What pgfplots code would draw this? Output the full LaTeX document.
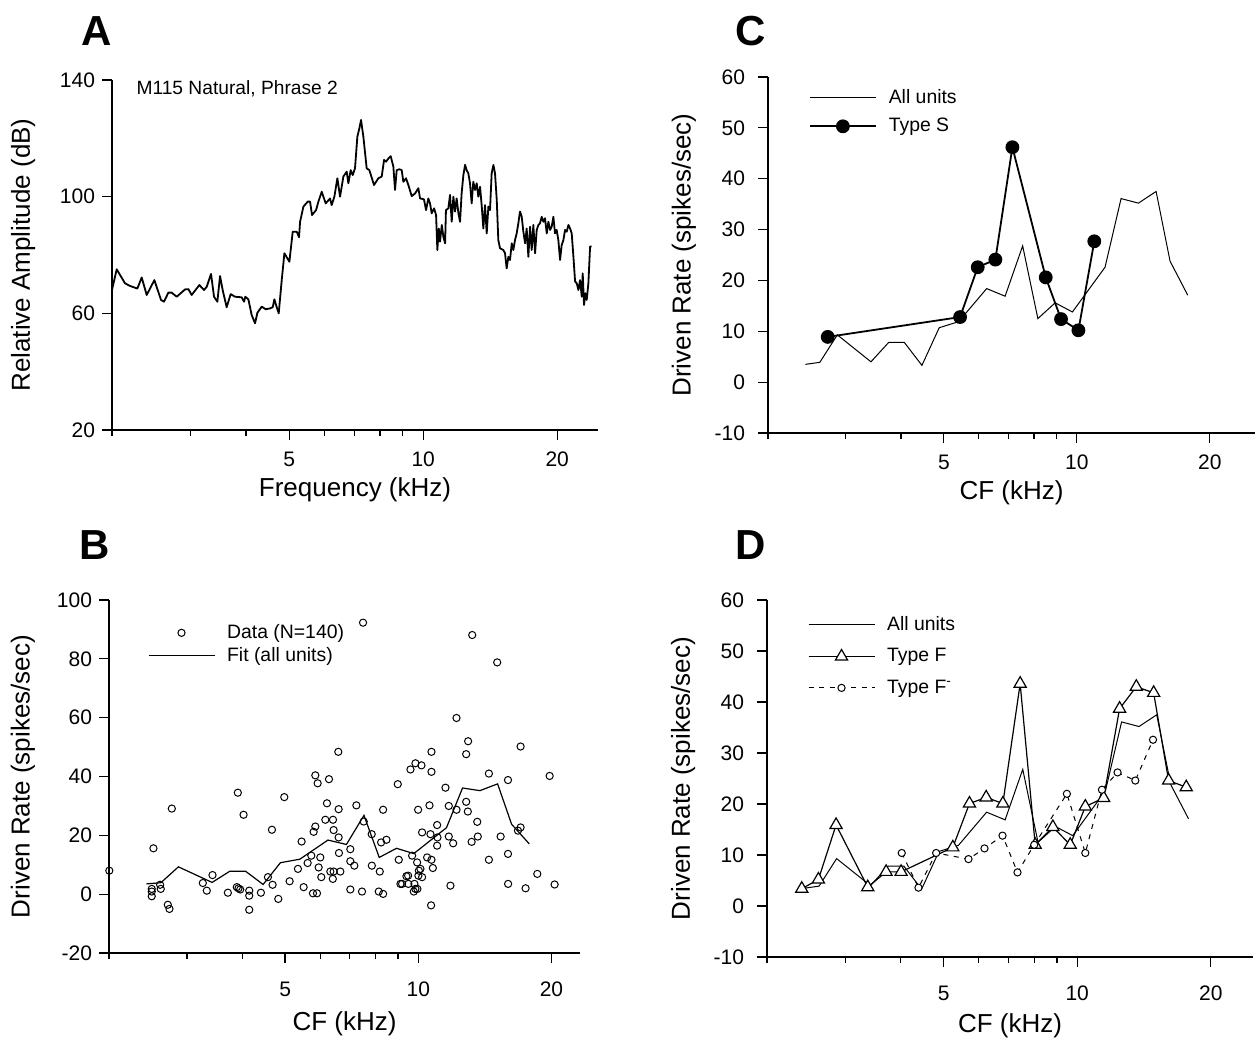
\documentclass[border=0pt]{standalone}
\usepackage{fontspec}
\setmainfont{Liberation Sans}
\usepackage{pgfplots}
\usepackage{pgfplotstable}
\pgfplotsset{compat=1.18}

% population fit shared by panels B, C, D
\pgfplotstableread{
f v
2.43 3.5
2.62 3.9
2.87 9.3
3.42 4.0
3.75 7.8
4.07 7.8
4.46 3.3
4.88 10.7
5.40 11.9
6.25 18.4
6.88 16.9
7.54 26.8
8.16 12.5
8.93 15.6
9.77 13.8
11.58 22.6
12.59 36.1
13.78 35.2
15.11 37.5
16.25 23.8
17.82 17.1
}\allunits

\pgfplotsset{
  every axis/.append style={
    scale only axis, clip=false,
    axis x line=bottom, axis y line=left,
    axis line style={-, line width=0.6pt},
    xtick={5,10,20}, xticklabels={5,10,20},
    minor xtick={2,3,4,6,7,8,9},
    tick align=outside,
    major tick length=5pt, minor tick length=3pt,
    tick style={black, line width=0.6pt},
    tick label style={font=\fontsize{10.5}{12}\selectfont},
    label style={font=\fontsize{13}{15}\selectfont},
    legend cell align=left,
    legend style={draw=none, fill=none, column sep=4pt, font=\fontsize{9.7}{11}\selectfont},
    legend image code/.code={\draw[mark repeat=2,mark phase=2,#1] plot coordinates {(0pt,0pt) (16.5pt,0pt) (33pt,0pt)};},
  },
}
\pgfplotsset{/pgf/number format/assume math mode=true}

\begin{document}
\begin{tikzpicture}
\useasboundingbox (0,0) rectangle (628.5pt,-520.5pt);

\node[font=\fontsize{21}{24}\selectfont\bfseries] at (48.5pt,-15.5pt) {A};
\node[font=\fontsize{21}{24}\selectfont\bfseries] at (47.5pt,-272.5pt) {B};
\node[font=\fontsize{21}{24}\selectfont\bfseries] at (375.5pt,-15.5pt) {C};
\node[font=\fontsize{21}{24}\selectfont\bfseries] at (375.5pt,-272.5pt) {D};

% ---------- A: spectrum
\begin{semilogxaxis}[at={(56pt,-215pt)}, anchor=south west,
  width=243pt, height=175pt, xmin=2, xmax=24.7,
  ymin=20, ymax=140, ytick={20,60,100,140},
  xticklabel style={yshift=-2.5pt},
  xlabel={Frequency (kHz)}, ylabel={Relative Amplitude (dB)},
  xlabel style={at={(axis description cs:0.5,-0.171)}, anchor=center},
  ylabel style={at={(axis description cs:-0.183,0.5)}, anchor=center}]
\addplot[black, line width=0.9pt, line join=round] coordinates {
(2.000,68.0) (2.049,75.1) (2.139,70.3) (2.195,69.4) (2.280,68.5) (2.332,72.3)
(2.393,66.3) (2.490,71.4) (2.577,64.6) (2.617,64.0) (2.677,67.1) (2.723,67.1)
(2.795,65.7) (2.918,68.2) (2.969,68.3) (3.020,66.3) (3.142,69.7) (3.219,68.0)
(3.264,69.1) (3.338,73.5) (3.390,65.7) (3.449,64.0) (3.497,72.8) (3.545,68.0)
(3.619,62.1) (3.695,66.6) (3.779,65.7) (3.911,65.5) (3.959,64.0) (3.986,65.7)
(4.049,64.8) (4.119,59.4) (4.191,56.6) (4.242,60.2) (4.338,62.3) (4.429,61.4)
(4.529,61.7) (4.592,62.1) (4.632,64.8) (4.688,62.1) (4.737,60.0) (4.811,71.4)
(4.878,80.6) (5.005,77.7) (5.093,88.0) (5.199,88.0) (5.262,86.1) (5.290,91.4)
(5.382,96.6) (5.504,98.3) (5.570,98.3) (5.628,93.7) (5.746,95.4) (5.816,98.3)
(5.917,101.7) (6.040,97.7) (6.177,99.4) (6.230,97.1) (6.317,100.0) (6.416,106.3)
(6.505,100.0) (6.618,106.9) (6.733,108.6) (6.791,104.6) (6.874,109.1) (6.945,107.4)
(7.029,109.7) (7.115,120.6) (7.189,123.4) (7.251,126.3) (7.339,120.6) (7.467,109.7)
(7.571,109.1) (7.755,104.0) (7.931,106.3) (8.069,106.9) (8.168,112.6) (8.252,112.0)
(8.353,113.1) (8.454,113.9) (8.571,110.3) (8.645,102.3) (8.720,109.1) (8.841,109.4)
(8.949,109.1) (9.026,105.1) (9.151,106.3) (9.262,104.0) (9.423,100.2) (9.588,101.1)
(9.754,102.9) (9.840,99.4) (10.04,99.1) (10.15,95.4) (10.27,99.4) (10.36,97.7)
(10.45,94.3) (10.58,96.0) (10.69,93.7) (10.76,81.7) (10.84,89.1) (10.91,84.6)
(11.01,90.3) (11.10,86.3) (11.20,84.0) (11.25,95.4) (11.39,96.0) (11.49,100.6)
(11.59,91.4) (11.69,100.0) (11.79,94.9) (11.89,99.4) (12.00,94.3) (12.10,91.4)
(12.20,101.1) (12.31,107.4) (12.42,110.9) (12.52,109.1) (12.63,108.0) (12.74,104.6)
(12.85,97.7) (12.96,105.1) (13.08,102.3) (13.19,104.6) (13.30,100.0) (13.42,103.4)
(13.54,96.6) (13.65,89.1) (13.77,97.1) (13.89,87.4) (14.01,96.6) (14.13,95.4)
(14.25,108.0) (14.38,110.9) (14.50,108.0) (14.63,98.9) (14.75,85.1) (14.88,82.3)
(15.14,81.7) (15.27,80.6) (15.40,75.4) (15.54,79.4) (15.67,78.3) (15.81,84.0)
(15.94,81.7) (16.08,85.1) (16.22,87.4) (16.36,90.9) (16.50,94.9) (16.65,93.1)
(16.79,88.0) (16.94,84.0) (17.08,89.1) (17.23,79.4) (17.38,89.7) (17.53,81.7)
(17.68,90.3) (17.84,80.6) (17.99,88.6) (18.15,90.3) (18.30,90.9) (18.46,93.1)
(18.62,91.4) (18.78,92.6) (18.95,87.4) (19.11,91.4) (19.28,88.6) (19.44,89.7)
(19.61,93.1) (19.78,87.4) (19.95,88.6) (20.12,85.1) (20.30,78.3) (20.47,83.4)
(20.65,85.1) (20.83,88.6) (21.01,88.0) (21.19,90.3) (21.38,89.1) (21.56,87.4)
(21.75,79.4) (21.94,70.9) (22.13,70.3) (22.32,68.0) (22.51,71.4) (22.71,65.7)
(22.82,73.7) (22.98,62.9) (23.14,66.9) (23.30,64.6) (23.50,70.3) (23.71,82.9)
(23.91,82.9)
};
\node[anchor=west, font=\fontsize{9.6}{11}\selectfont] at (axis description cs:0.036,0.974) {M115 Natural, Phrase 2};
\end{semilogxaxis}

% ---------- C: type S
\begin{semilogxaxis}[at={(384pt,-216.5pt)}, anchor=south west,
  width=243.5pt, height=178pt, xmin=2, xmax=25.3,
  ymin=-10, ymax=60, ytick={-10,0,...,60},
  xticklabel style={yshift=-2.5pt}, yticklabel style={xshift=-3pt},
  xlabel={CF (kHz)}, ylabel={Driven Rate (spikes/sec)},
  xlabel style={at={(axis description cs:0.5,-0.169)}, anchor=center},
  ylabel style={at={(axis description cs:-0.1725,0.5)}, anchor=center},
  legend style={at={(axis description cs:0.071,0.99)}, anchor=north west, row sep=2pt}]
\addplot[black, line width=0.5pt] table[x=f, y=v] {\allunits};
\addlegendentry{All units}
\addplot[black, line width=0.9pt, mark=*, mark size=3pt] coordinates {
(2.730,8.9) (5.440,12.8) (5.965,22.6) (6.540,24.1) (7.146,46.2)
(8.502,20.6) (9.208,12.4) (10.08,10.2) (10.95,27.7)
};
\addlegendentry{Type S}
\end{semilogxaxis}

% ---------- B: all units
\begin{semilogxaxis}[at={(54.5pt,-476.5pt)}, anchor=south west,
  width=235.5pt, height=176.5pt, xmin=2, xmax=23.2,
  ymin=-20, ymax=100, ytick={-20,0,...,100},
  xticklabel style={yshift=-6pt},
  xlabel={CF (kHz)}, ylabel={Driven Rate (spikes/sec)},
  xlabel style={at={(axis description cs:0.5,-0.2)}, anchor=center},
  ylabel style={at={(axis description cs:-0.1826,0.5)}, anchor=center},
  legend style={at={(axis description cs:0.069,0.955)}, anchor=north west, row sep=-1pt}]
\addplot[black, only marks, mark=o, mark size=1.8pt, line width=0.5pt] table {
f v
2.003 8.0
2.520 15.6
2.498 1.8
2.498 0.9
2.498 -0.7
2.618 1.8
2.609 3.2
2.716 -3.6
2.739 -5.0
2.773 29.1
3.259 3.8
3.327 1.2
3.427 6.5
3.712 0.5
3.910 34.5
3.890 2.4
3.924 2.0
3.959 1.6
4.028 27.0
4.149 1.2
4.149 -0.5
4.149 -5.3
4.409 0.5
4.573 5.8
4.669 21.9
4.685 3.2
4.826 -1.6
4.979 33.0
5.119 4.4
5.346 8.6
5.449 17.9
5.507 2.4
5.622 10.6
5.731 13.1
5.781 0.3
5.903 0.3
5.801 21.2
5.852 23.0
5.852 40.4
5.923 37.7
5.954 9.1
6.006 12.5
6.037 5.8
6.165 25.3
6.218 30.9
6.283 39.1
6.327 7.7
6.415 25.3
6.410 5.2
6.437 7.7
6.437 21.8
6.596 48.4
6.607 28.9
6.607 19.3
6.618 14.0
6.665 7.7
7.022 15.3
7.022 11.2
7.022 1.6
7.170 9.7
7.245 30.2
7.462 0.9
7.502 92.3
7.528 24.7
7.848 20.4
7.853 9.7
8.141 0.9
8.327 0.1
8.184 7.7
8.241 17.6
8.473 18.5
8.327 28.7
8.987 37.4
9.034 11.7
9.113 3.5
9.192 3.5
9.484 6.3
9.497 3.5
9.400 6.1
9.800 3.5
9.601 42.4
9.684 13.1
9.768 0.9
9.853 44.5
10.166 43.8
9.939 10.8
9.953 1.8
9.850 1.8
9.991 28.7
10.005 6.3
10.030 8.0
10.112 8.6
10.200 21.0
10.200 5.8
10.71 48.4
10.71 41.6
10.60 30.2
10.655 20.4
10.47 12.5
10.71 11.7
10.787 8.9
10.69 -3.8
11.03 23.5
11.05 19.3
11.03 16.5
11.52 36.2
11.72 30.0
11.72 19.6
11.82 2.9
11.99 17.3
12.20 28.7
12.20 59.9
12.83 31.4
12.94 28.1
12.96 52.0
12.83 47.6
13.24 88.1
13.20 17.8
13.59 24.6
13.63 19.6
14.44 41.0
14.44 11.7
15.08 78.8
15.35 19.6
15.95 38.8
15.95 13.7
15.96 3.5
16.80 21.6
17.03 22.7
17.03 50.2
17.48 2.0
18.58 6.9
19.81 40.2
20.33 3.3
};
\addlegendentry{Data (N=140)}
\addplot[black, line width=0.6pt] table[x=f, y=v] {\allunits};
\addlegendentry{Fit (all units)}
\end{semilogxaxis}

% ---------- D: type F and F-
\begin{semilogxaxis}[at={(383.5pt,-478.5pt)}, anchor=south west,
  width=243pt, height=178.5pt, xmin=2, xmax=24.9,
  ymin=-10, ymax=60, ytick={-10,0,...,60},
  xticklabel style={yshift=-6pt}, yticklabel style={xshift=-3pt},
  xlabel={CF (kHz)}, ylabel={Driven Rate (spikes/sec)},
  xlabel style={at={(axis description cs:0.5,-0.192)}, anchor=center},
  ylabel style={at={(axis description cs:-0.1728,0.5)}, anchor=center},
  legend style={at={(axis description cs:0.071,0.978)}, anchor=north west, row sep=3.5pt}]
\addplot[black, line width=0.5pt] table[x=f, y=v] {\allunits};
\addlegendentry{All units}
\addplot[black, line width=0.6pt, mark=triangle*, mark size=3.5pt, mark options={fill=white}] coordinates {
(2.395,3.4) (2.611,5.2) (2.862,15.9) (3.373,3.7) (3.710,6.7) (4.010,6.7)
(5.245,11.5) (5.718,20.1) (6.235,21.3) (6.800,20.1) (7.438,43.6) (8.042,12.0)
(8.814,15.5) (9.645,12.0) (10.43,19.5) (11.47,21.2) (12.46,38.7) (13.59,43.0)
(14.87,41.8) (16.07,24.6) (17.61,23.3)
};
\addlegendentry{Type F}
\addplot[black, line width=0.5pt, dash pattern=on 2.5pt off 2.8pt, mark=*, mark size=1.8pt, mark options={solid, fill=white}] coordinates {
(4.024,10.4) (4.388,3.6) (4.810,10.4) (5.689,9.2) (6.181,11.3) (6.788,13.8)
(7.337,6.6) (8.000,12.0) (9.479,22.0) (10.43,10.4) (11.37,22.8) (12.33,26.2)
(13.52,24.6) (14.82,32.6)
};
\addlegendentry{Type F\textsuperscript{-}}
\end{semilogxaxis}
\end{tikzpicture}
\end{document}
